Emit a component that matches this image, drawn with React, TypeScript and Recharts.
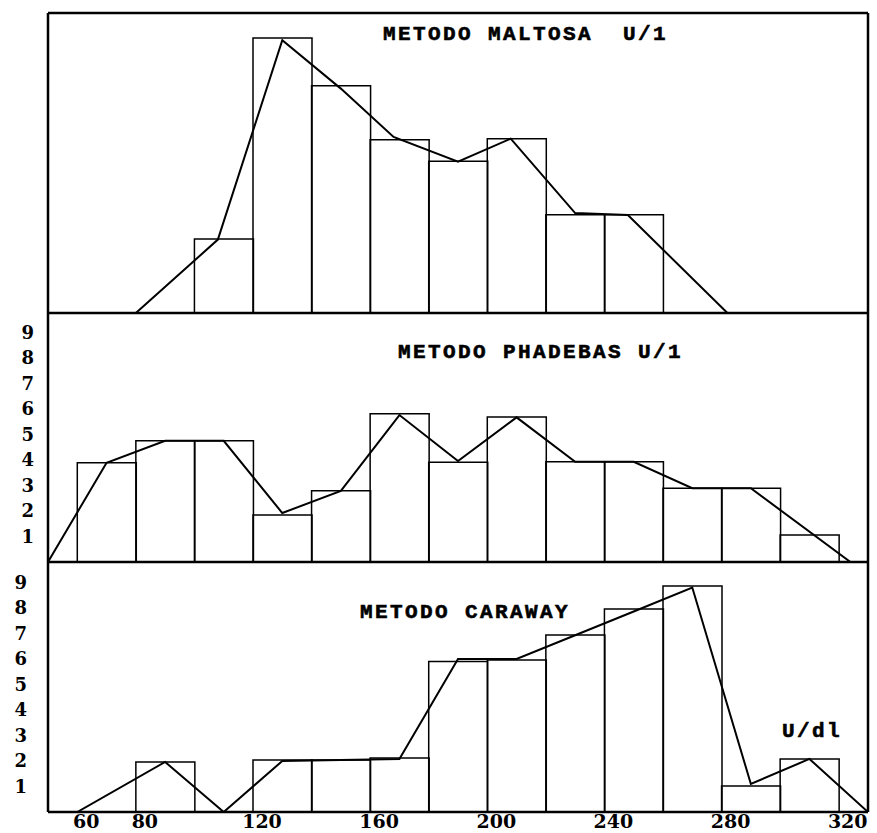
import React from 'react';
import { ComposedChart, Bar, Line, XAxis, YAxis, ReferenceLine } from 'recharts';

// ---------- data ----------
const xTickLabels = [60, 80, 120, 160, 200, 240, 280, 320];
const yTickLabels = [1, 2, 3, 4, 5, 6, 7, 8, 9];

// METODO MALTOSA U/1 (bin midpoints, bin width 20)
const maltosaBins = [110, 130, 150, 170, 190, 210, 230, 250];
const maltosaCounts = [2.98, 11.09, 9.17, 6.99, 6.12, 7.03, 3.96, 3.96];
const maltosaPolyX = [80, 108, 130, 150, 168, 190, 208, 230, 248, 282];
const maltosaPolyY = [0, 2.96, 11.0, 9.05, 7.1, 6.1, 7.03, 4.03, 3.95, 0];

// METODO PHADEBAS U/1
const phadebasBins = [70, 90, 110, 130, 150, 170, 190, 210, 230, 250, 270, 290, 310];
const phadebasCounts = [3.89, 4.75, 4.75, 1.84, 2.79, 5.81, 3.91, 5.68, 3.93, 3.93, 2.89, 2.89, 1.06];
const phadebasPolyX = [50, 70, 90, 110, 130, 150, 170, 190, 210, 230, 250, 270, 290, 324];
const phadebasPolyY = [0, 3.89, 4.75, 4.75, 1.92, 2.79, 5.76, 3.96, 5.67, 3.93, 3.93, 2.89, 2.89, 0];

// METODO CARAWAY U/dl
const carawayBins = [90, 130, 150, 170, 190, 210, 230, 250, 270, 290, 310];
const carawayCounts = [1.96, 2.04, 2.04, 2.12, 5.9, 5.96, 6.94, 7.96, 8.86, 1.02, 2.08];
const carawayPolyX = [60, 90, 110, 130, 170, 190, 210, 230, 250, 270, 290, 310, 330];
const carawayPolyY = [0, 1.96, 0, 2.0, 2.08, 6.0, 6.0, 6.93, 7.86, 8.8, 1.1, 2.08, 0];

const titles = [
  { text: 'METODO MALTOSA  U/1', x: 383, y: 40 },
  { text: 'METODO PHADEBAS U/1', x: 398, y: 358 },
  { text: 'METODO CARAWAY', x: 360, y: 618 },
  { text: 'U/dl', x: 782, y: 737 },
];

// ---------- helpers ----------
const X_MIN = 50;
const X_MAX = 330;
const X_DOMAIN: [number, number] = [X_MIN, X_MAX];
const zip = (xs: number[], ys: number[]) => xs.map((x, i) => ({ x, y: ys[i] }));

const FRAME = { stroke: '#000', strokeWidth: 2.5 };
const TICK_FONT = 'DejaVu Serif';

type PanelProps = {
  top: number;
  height: number;
  margin: { top: number; right: number; bottom: number; left: number };
  yMax: number;
  bars: { x: number; y: number }[];
  poly: { x: number; y: number }[];
  showYTicks: boolean;
  yTickMargin: number;
  showXTicks: boolean;
  xAxisHeight: number;
  topBorder: boolean;
};

function Panel(p: PanelProps) {
  return (
    <div style={{ position: 'absolute', left: 0, top: p.top, width: 877, height: p.height }}>
      <ComposedChart
        width={877}
        height={p.height}
        data={p.bars}
        margin={p.margin}
        barCategoryGap={0}
        barGap={0}
      >
        <XAxis
          xAxisId="l"
          type="number"
          dataKey="x"
          domain={X_DOMAIN}
          allowDataOverflow
          ticks={p.showXTicks ? xTickLabels : []}
          interval={0}
          fontSize={19}
          fontFamily={TICK_FONT}
          fontWeight={700}
          tick={
            p.showXTicks
              ? { fill: '#000', fontFamily: TICK_FONT, fontWeight: 700, fontSize: 19, dx: 9 }
              : false
          }
          tickLine={false}
          tickSize={0}
          tickMargin={3}
          height={p.xAxisHeight}
          axisLine={false}
        />
        <XAxis
          xAxisId="b"
          orientation="top"
          type="number"
          dataKey="x"
          domain={X_DOMAIN}
          hide
          allowDataOverflow
        />
        <YAxis
          type="number"
          domain={[0, p.yMax]}
          allowDataOverflow
          ticks={p.showYTicks ? yTickLabels : []}
          interval={0}
          fontSize={18}
          fontFamily={TICK_FONT}
          fontWeight={700}
          tick={
            p.showYTicks
              ? { fill: '#000', fontFamily: TICK_FONT, fontWeight: 700, fontSize: 18 }
              : false
          }
          tickLine={false}
          tickSize={0}
          tickMargin={p.yTickMargin}
          width={48}
          axisLine={false}
        />
        <Bar
          xAxisId="b"
          dataKey="y"
          fill="none"
          stroke="#000"
          strokeWidth={1.5}
          isAnimationActive={false}
        />
        <Line
          xAxisId="l"
          data={p.poly}
          dataKey="y"
          type="linear"
          stroke="#000"
          strokeWidth={2}
          dot={false}
          isAnimationActive={false}
        />
        <ReferenceLine xAxisId="l" x={X_MIN} {...FRAME} />
        <ReferenceLine xAxisId="l" x={X_MAX} {...FRAME} />
        <ReferenceLine xAxisId="l" y={0} {...FRAME} />
        {p.topBorder && <ReferenceLine xAxisId="l" y={p.yMax} {...FRAME} />}
      </ComposedChart>
    </div>
  );
}

export default function App() {
  return (
    <div
      style={{
        position: 'absolute',
        left: 0,
        top: 0,
        width: 877,
        height: 833,
        background: '#fff',
        overflow: 'hidden',
      }}
    >
      <Panel
        top={0}
        height={320}
        margin={{ top: 13, right: 9, bottom: 7, left: 0 }}
        yMax={12.1}
        bars={zip(maltosaBins, maltosaCounts)}
        poly={zip(maltosaPolyX, maltosaPolyY)}
        showYTicks={false}
        yTickMargin={15}
        showXTicks={false}
        xAxisHeight={0}
        topBorder={true}
      />
      <Panel
        top={306}
        height={263}
        margin={{ top: 7, right: 9, bottom: 7, left: 0 }}
        yMax={9.76}
        bars={zip(phadebasBins, phadebasCounts)}
        poly={zip(phadebasPolyX, phadebasPolyY)}
        showYTicks={true}
        yTickMargin={14}
        showXTicks={false}
        xAxisHeight={0}
        topBorder={false}
      />
      <Panel
        top={556}
        height={277}
        margin={{ top: 6, right: 9, bottom: 0, left: 0 }}
        yMax={9.8}
        bars={zip(carawayBins, carawayCounts)}
        poly={zip(carawayPolyX, carawayPolyY)}
        showYTicks={true}
        yTickMargin={21}
        showXTicks={true}
        xAxisHeight={21}
        topBorder={false}
      />
      <svg
        width={877}
        height={833}
        style={{ position: 'absolute', left: 0, top: 0, pointerEvents: 'none' }}
      >
        {titles.map((t) => (
          <text
            key={t.text}
            x={t.x}
            y={t.y}
            fill="#000"
            stroke="#000"
            strokeWidth={0.6}
            fontFamily="Liberation Mono"
            fontWeight={700}
            fontSize={21}
            letterSpacing={2.4}
            style={{ whiteSpace: 'pre' }}
          >
            {t.text}
          </text>
        ))}
      </svg>
    </div>
  );
}
